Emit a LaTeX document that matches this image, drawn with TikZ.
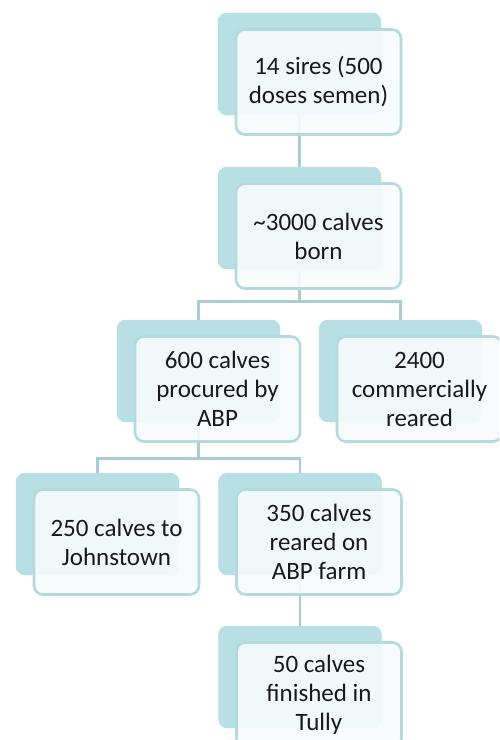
\documentclass[tikz,border=0pt]{standalone}
\usepackage{fontspec}
\setmainfont{Carlito}
\usetikzlibrary{calc}
\definecolor{backteal}{HTML}{B8DFE3}
\definecolor{edgeteal}{HTML}{B3DADF}
\definecolor{linkteal}{HTML}{A8CED3}
\definecolor{frontfill}{HTML}{F8FBFC}
\tikzset{
    backbox/.style={draw=none, fill=backteal, rounded corners=9pt,
        minimum width=163pt, minimum height=102pt, inner sep=0pt},
    frontbox/.style={draw=edgeteal, line width=2.6pt, fill=frontfill, fill opacity=0.9,
        text opacity=1, rounded corners=9pt, minimum width=165pt, minimum height=105pt,
        inner sep=0pt, align=center, font=\fontsize{25}{29}\selectfont, text=black!90},
    link/.style={draw=linkteal, line width=2.8pt}
}
\begin{document}
\begin{tikzpicture}[x=1pt, y=-1pt]
        % frame
        \clip (0,0) rectangle (499,740);
        \fill[white] (0,0) rectangle (499,740);

        % back boxes
        \node[backbox] (b1) at (299.5,64) {};
        \node[backbox] (b2) at (299.5,218) {};
        \node[backbox] (b3a) at (198.5,371) {};
        \node[backbox] (b3b) at (400.5,371) {};
        \node[backbox] (b4a) at (97.5,524) {};
        \node[backbox] (b4b) at (300,524) {};
        \node[backbox] (b5) at (300,677) {};

        % connectors
        \draw[link] (b1.south) -- (b2.north);
        \draw[link] (b2.south) -- ++(0,32) -| (b3a.north);
        \draw[link] (b2.south) -- ++(0,32) -| (b3b.north);
        \draw[link] (b3a.south) -- ++(0,36) -| (b4a.north);
        \draw[link] (b3a.south) -- ++(0,36) -| (b4b.north);
        \draw[link] (b4b.south) -- (b5.north);

        % back boxes again, over the connectors
        \foreach \b in {b1,b2,b3a,b3b,b4a,b4b,b5}
            \fill[backteal, rounded corners=9pt] (\b.north west) rectangle (\b.south east);

        % front boxes
        \node[frontbox] (f1) at ($(b1)+(19,18)$) {14 sires (500\\doses semen)};
        \node[frontbox] (f2) at ($(b2)+(19,18)$) {\textasciitilde3000 calves\\born};
        \node[frontbox] (f3a) at ($(b3a)+(19,18)$) {600 calves\\procured by\\ABP};
        \node[frontbox] (f3b) at ($(b3b)+(19,18)$) {2400\\commercially\\reared};
        \node[frontbox] (f4a) at ($(b4a)+(19,18)$) {250 calves to\\Johnstown};
        \node[frontbox] (f4b) at ($(b4b)+(19,18)$) {350 calves\\reared on\\ABP farm};
        \node[frontbox] (f5) at ($(b5)+(19,18)$) {50 calves\\finished in\\Tully};
\end{tikzpicture}
\end{document}
